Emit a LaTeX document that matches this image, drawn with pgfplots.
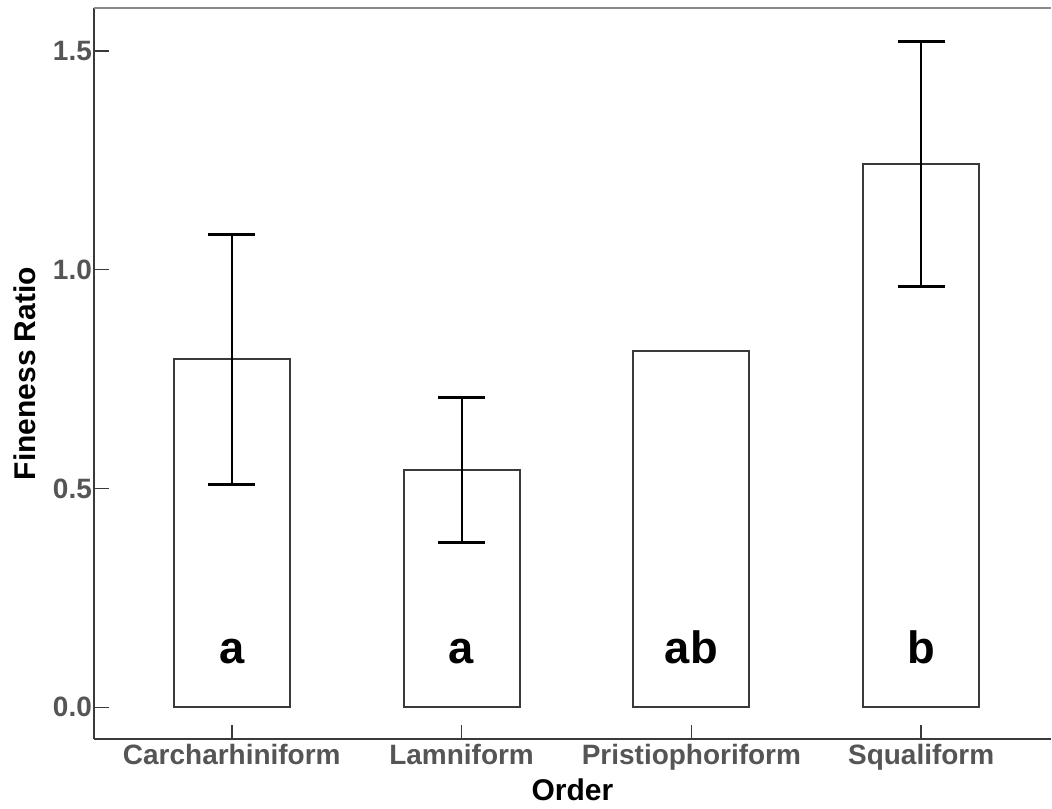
\documentclass[border=0pt]{standalone}
\usepackage{fontspec}
\setmainfont{Liberation Sans}
\usepackage{pgfplots}
\pgfplotsset{compat=1.18}
\definecolor{tickgray}{HTML}{555555}
\definecolor{linegray}{HTML}{3A3A3A}
\definecolor{topgray}{HTML}{8A8A8A}
\begin{document}
\begin{tikzpicture}
\begin{axis}[
  scale only axis, width=718.5pt, height=549pt,
  xmin=-0.6, xmax=3.565, ymin=-0.073, ymax=1.598,
  axis lines=left,
  axis line style={-, draw=linegray, line width=1.5pt},
  tick align=inside,
  major tick length=11pt,
  tick style={draw=linegray, line width=1.2pt},
  xtick={0,1,2,3},
  xticklabels={Carcharhiniform,Lamniform,Pristiophoriform,Squaliform},
  ytick={0,0.5,1,1.5},
  yticklabel style={/pgf/number format/fixed, /pgf/number format/precision=1, /pgf/number format/fixed zerofill, xshift=2pt},
  /pgf/number format/assume math mode=true,
  tick label style={font=\bfseries\fontsize{21}{24}\selectfont, text=tickgray},
  xlabel={Order},
  ylabel={Fineness Ratio},
  label style={font=\bfseries\fontsize{22.5}{26}\selectfont, text=black, inner sep=0pt},
  xlabel style={at={([yshift=-38pt]rel axis cs:0.5,0)}, anchor=center},
  ylabel style={at={([xshift=-52pt]rel axis cs:0,0.5)}, anchor=center},
  clip=false,
]
\addplot[ybar, bar width=87pt, fill=white, draw=linegray, line width=1.5pt]
  coordinates {(0,0.795) (1,0.543) (2,0.815) (3,1.242)};
\addplot[draw=none, mark=none,
  error bars/.cd, y dir=both, y explicit,
  error bar style={draw=black, solid, line width=1.5pt},
  error mark options={rotate=90, draw=black, mark size=17.6pt, line width=2pt}]
  table[x=x, y=y, y error plus=ep, y error minus=em] {
  x y ep em
  0 0.795 0.285 0.286
  1 0.543 0.165 0.166
  3 1.242 0.279 0.281
  };
\draw[topgray, line width=1.2pt] (rel axis cs:0,1) -- (rel axis cs:1,1);
\path ([yshift=6pt]rel axis cs:0,1) coordinate (topmargin);
\path ([xshift=-70.5pt,yshift=-52pt]rel axis cs:0,0) coordinate (blmargin);
\node[font=\bfseries\fontsize{34}{40}\selectfont, anchor=base] at (axis cs:0,0.1) {a};
\node[font=\bfseries\fontsize{34}{40}\selectfont, anchor=base] at (axis cs:1,0.1) {a};
\node[font=\bfseries\fontsize{34}{40}\selectfont, anchor=base] at (axis cs:2,0.1) {ab};
\node[font=\bfseries\fontsize{34}{40}\selectfont, anchor=base] at (axis cs:3,0.1) {b};
\end{axis}
\end{tikzpicture}
\end{document}
